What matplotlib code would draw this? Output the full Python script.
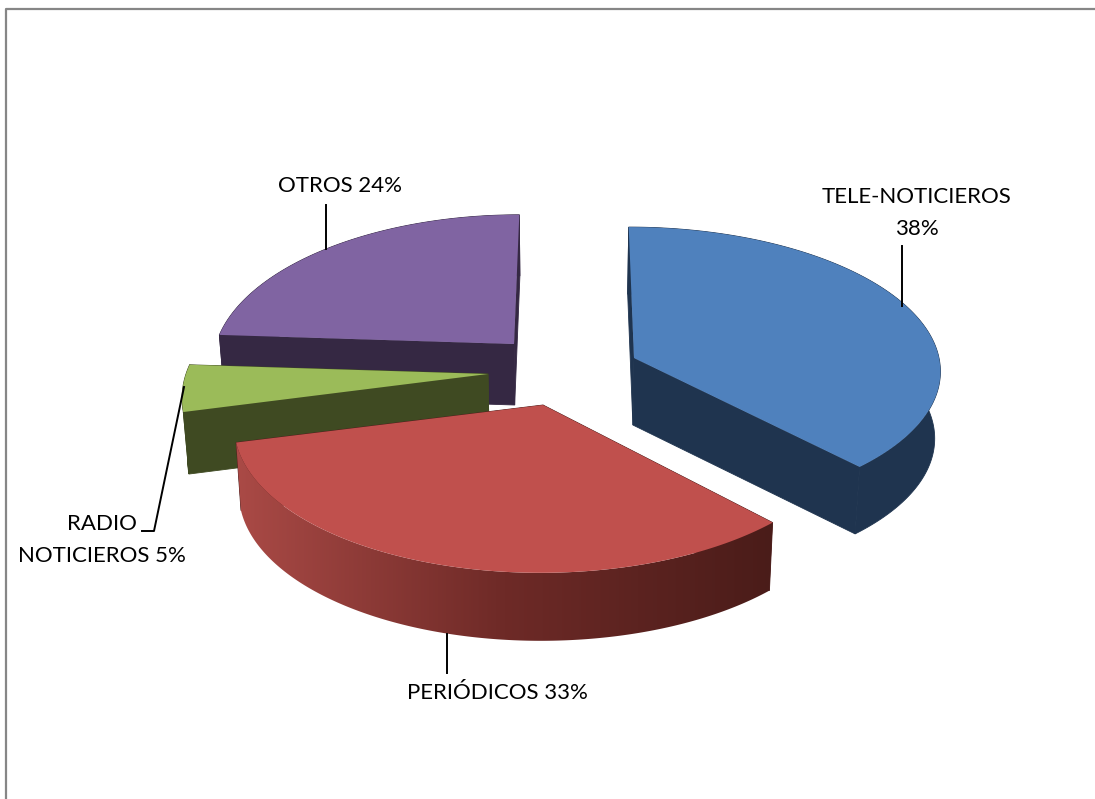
import numpy as np
import matplotlib
matplotlib.use("Agg")
import matplotlib.pyplot as plt
from matplotlib.colors import LinearSegmentedColormap
from matplotlib.patches import Polygon

categories = ["TELE-NOTICIEROS", "PERIÓDICOS", "RADIO\nNOTICIEROS", "OTROS"]
values = [38, 33, 5, 24]

top_colors = ["#4F81BD", "#C0504D", "#9BBB59", "#8064A2"]
cut_colors = ["#1F344F", "#4C1D1B", "#3F4A22", "#352843"]
# apex of every exploded slice, in pixels
apex_x = [634, 543, 488, 514]
apex_y = [358, 405, 374, 344]
depths = [67, 68, 62, 61]
# ellipse axes and perspective of every slice
radius_x = [305, 306, 302, 298]
radius_y = [141, 146, 148, 146]
persp = [0.077, 0.13, 0.13, 0.13]

VX = 560
red_wall = LinearSegmentedColormap.from_list("red_wall", ["#AA4A46", "#6E2A27", "#4A1C19"])


def project(theta, i):
    u, v = np.sin(theta), np.cos(theta)
    s = 1 / (1 + persp[i] * v)
    return VX + (apex_x[i] - VX + radius_x[i] * u) * s, apex_y[i] - radius_y[i] * v * s


def lower(x, y, d):
    return VX + (x - VX) * 0.985, y + d


fig = plt.figure(figsize=(10.95, 7.99), dpi=100)
ax = fig.add_axes([0, 0, 1, 1])
ax.set_xlim(0, 1095)
ax.set_ylim(799, 0)
ax.axis("off")

ax.plot([5.5, 5.5, 1095], [799, 8.5, 8.5], color="#868686", lw=1.6)

fractions = np.cumsum([0] + values) / sum(values) * 2 * np.pi
for i in [3, 2, 1, 0]:
    t = np.linspace(fractions[i], fractions[i + 1], 200)
    x, y = project(t, i)
    d = depths[i]
    px, py = apex_x[i], apex_y[i]
    lx, ly = lower(x, y, d)
    plx, ply = lower(px, py, d)

    # the two cut faces
    for j in [0, -1]:
        ax.fill([px, x[j], lx[j], plx], [py, y[j], ly[j], ply],
                color=cut_colors[i], lw=0.6)

    # outer wall, the red one has a gradient
    wall = np.c_[np.r_[x, lx[::-1]], np.r_[y, ly[::-1]]]
    if i == 1:
        patch = Polygon(wall, closed=True, fc="none", ec="none")
        ax.add_patch(patch)
        grad = np.linspace(0, 1, 256).reshape(1, -1)
        im = ax.imshow(grad, cmap=red_wall, aspect="auto", zorder=1.51,
                       extent=[x.min(), x.max(), ly.max(), y.min()])
        im.set_clip_path(patch)
        ax.set_xlim(0, 1095)
        ax.set_ylim(799, 0)
        ax.fill(np.r_[px, x], np.r_[py, y], color=top_colors[i], lw=0, zorder=1.6)
    else:
        ax.fill(wall[:, 0], wall[:, 1], color=cut_colors[i], lw=0.6)
        ax.fill(np.r_[px, x], np.r_[py, y], color=top_colors[i], lw=0)

# leader lines
ax.plot([902, 902], [246, 306], color="black", lw=1.4, zorder=3)
ax.plot([326, 326], [205, 249], color="black", lw=1.4, zorder=3)
ax.plot([447, 447], [634, 673], color="black", lw=1.4, zorder=3)
ax.plot([142, 154, 184], [531, 531, 387], color="black", lw=1.4, zorder=3)

font = dict(family="Lato", fontsize=16, color="black", ha="center", va="center", linespacing=1.7)
ax.text(917, 213, f"{categories[0]}\n{values[0]}%", **font)
ax.text(497, 693, f"{categories[1]} {values[1]}%", **font)
ax.text(340, 186, f"{categories[3]} {values[3]}%", **font)
ax.text(102, 540, f"{categories[2]} {values[2]}%", **font)

fig.savefig("out.png", dpi=100)
